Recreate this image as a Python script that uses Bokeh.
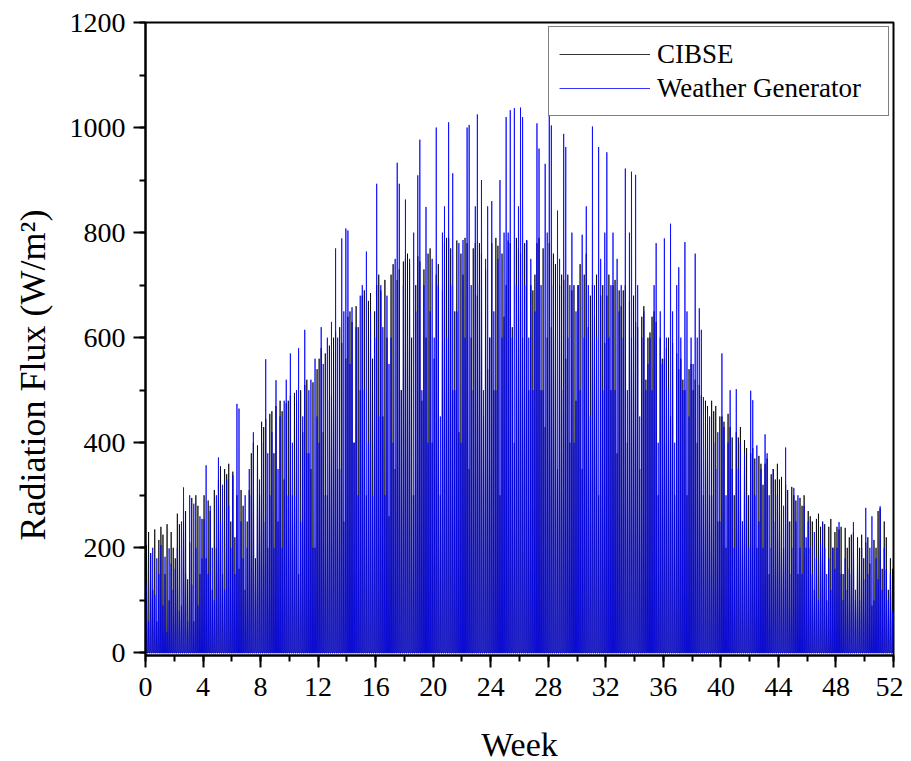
from bokeh.plotting import figure
from bokeh.models import SingleIntervalTicker, Range1d, Legend, LegendItem
from bokeh.embed import file_html
from bokeh.resources import INLINE

# Daily peak radiation (W/m^2), 7 days per week
cibse_weeks = [
    [205, 230, 190, 120, 235, 60, 215],
    [240, 225, 150, 245, 100, 230, 200],
    [180, 265, 245, 90, 250, 270, 140],
    [210, 295, 60, 300, 280, 150, 255],
    [300, 180, 290, 270, 120, 310, 200],
    [330, 355, 150, 350, 340, 360, 250],
    [345, 220, 300, 160, 310, 280, 120],
    [250, 310, 380, 400, 180, 395, 300],
    [440, 430, 445, 200, 455, 460, 380],
    [470, 250, 480, 460, 330, 475, 480],
    [490, 300, 495, 480, 150, 500, 420],
    [510, 520, 380, 350, 515, 200, 540],
    [560, 580, 420, 570, 300, 585, 490],
    [600, 610, 350, 620, 590, 250, 560],
    [640, 650, 630, 400, 660, 620, 500],
    [680, 690, 300, 670, 685, 560, 650],
    [700, 720, 690, 450, 710, 600, 260],
    [720, 740, 350, 710, 730, 500, 745],
    [750, 760, 740, 600, 300, 700, 755],
    [745, 480, 730, 600, 760, 770, 400],
    [560, 720, 740, 300, 690, 780, 790],
    [790, 770, 500, 650, 785, 420, 760],
    [720, 790, 780, 350, 600, 770, 780],
    [680, 780, 760, 450, 730, 540, 600],
    [780, 500, 790, 775, 300, 760, 640],
    [700, 785, 780, 620, 400, 790, 770],
    [760, 600, 780, 785, 500, 700, 690],
    [720, 780, 790, 500, 770, 430, 600],
    [780, 620, 760, 740, 350, 700, 720],
    [710, 560, 720, 400, 690, 700, 480],
    [700, 740, 350, 720, 760, 620, 680],
    [700, 640, 720, 300, 680, 700, 590],
    [680, 720, 500, 700, 710, 380, 690],
    [660, 690, 700, 400, 670, 600, 680],
    [630, 620, 350, 640, 660, 520, 600],
    [610, 640, 650, 630, 300, 600, 560],
    [560, 580, 600, 450, 590, 300, 570],
    [540, 560, 520, 500, 300, 540, 550],
    [500, 520, 400, 510, 490, 300, 480],
    [470, 300, 480, 460, 470, 250, 450],
    [450, 440, 200, 455, 430, 410, 300],
    [420, 410, 430, 250, 405, 390, 300],
    [380, 390, 370, 200, 375, 360, 320],
    [360, 370, 150, 340, 350, 330, 360],
    [330, 335, 200, 320, 310, 250, 316],
    [300, 290, 150, 295, 280, 300, 200],
    [270, 260, 250, 120, 255, 265, 240],
    [250, 245, 100, 240, 255, 200, 230],
    [240, 235, 240, 150, 238, 200, 220],
    [225, 230, 100, 220, 200, 225, 180],
    [210, 220, 170, 90, 215, 200, 270],
    [275, 160, 250, 220, 120, 180, 160],
]

wg_weeks = [
    [130, 60, 190, 200, 110, 180, 150],
    [205, 90, 183, 40, 199, 170, 120],
    [160, 200, 80, 250, 315, 150, 60],
    [300, 130, 284, 200, 90, 260, 180],
    [254, 357, 150, 280, 200, 100, 300],
    [372, 250, 320, 120, 330, 280, 200],
    [338, 150, 474, 465, 250, 180, 300],
    [200, 350, 300, 420, 150, 380, 330],
    [400, 250, 559, 380, 300, 420, 200],
    [519, 350, 450, 200, 480, 520, 300],
    [570, 400, 300, 500, 580, 250, 450],
    [615, 380, 500, 520, 200, 560, 450],
    [400, 620, 550, 300, 600, 480, 630],
    [500, 770, 600, 350, 789, 650, 808],
    [804, 550, 658, 400, 620, 300, 680],
    [700, 500, 764, 400, 650, 300, 600],
    [893, 450, 700, 620, 300, 680, 550],
    [600, 400, 750, 933, 893, 500, 700],
    [863, 600, 750, 300, 800, 650, 909],
    [977, 500, 700, 849, 400, 650, 750],
    [600, 1000, 700, 450, 800, 850, 600],
    [1010, 700, 913, 500, 650, 780, 400],
    [786, 600, 1000, 1005, 700, 500, 850],
    [1025, 700, 900, 500, 750, 850, 600],
    [860, 650, 500, 750, 900, 600, 800],
    [1020, 800, 1033, 600, 1037, 700, 850],
    [1038, 1020, 700, 786, 600, 750, 500],
    [650, 1008, 960, 700, 500, 931, 800],
    [1025, 1004, 700, 600, 842, 750, 500],
    [988, 963, 600, 700, 800, 400, 650],
    [700, 500, 796, 600, 850, 700, 450],
    [1002, 700, 600, 963, 750, 500, 800],
    [953, 600, 700, 800, 500, 750, 650],
    [700, 600, 922, 500, 800, 916, 600],
    [910, 700, 450, 600, 650, 500, 550],
    [600, 500, 700, 780, 400, 650, 550],
    [789, 600, 500, 817, 650, 400, 700],
    [734, 600, 500, 782, 650, 450, 600],
    [550, 760, 600, 656, 615, 487, 400],
    [458, 450, 300, 400, 350, 420, 250],
    [570, 430, 300, 400, 500, 350, 200],
    [502, 350, 400, 250, 380, 300, 200],
    [499, 481, 300, 395, 250, 350, 200],
    [416, 380, 300, 200, 350, 250, 300],
    [300, 200, 280, 391, 250, 150, 200],
    [314, 250, 300, 200, 150, 280, 220],
    [250, 200, 150, 230, 180, 100, 210],
    [249, 200, 150, 180, 120, 200, 160],
    [200, 249, 150, 100, 180, 120, 160],
    [150, 249, 120, 180, 100, 200, 140],
    [276, 150, 200, 260, 100, 180, 140],
    [279, 120, 200, 159, 100, 150, 80],
]

series_names = ["CIBSE", "Weather Generator"]
x_ticks_interval = 4
y_ticks_interval = 200

def day_trace(weeks):
    xs, ys = [], []
    d = 0
    for wk in weeks:
        for peak in wk:
            xs += [(d + 0.25) / 7.0, (d + 0.5) / 7.0, (d + 0.75) / 7.0]
            ys += [0, peak, 0]
            d += 1
    return xs, ys

cx, cy = day_trace(cibse_weeks)
wx, wy = day_trace(wg_weeks)

FONT = "Liberation Serif"

p = figure(frame_width=748, frame_height=633,
           x_range=Range1d(0, 52), y_range=Range1d(-5, 1200),
           output_backend="svg", toolbar_location=None,
           min_border_left=145, min_border_top=22, min_border_right=10, min_border_bottom=104)

r1 = p.line(cx, cy, line_color="black", line_width=0.8)
r2 = p.line(wx, wy, line_color="#0000FF", line_width=0.8)

p.grid.visible = False
p.outline_line_color = "black"
p.outline_line_width = 2
p.background_fill_color = "white"
p.border_fill_color = "white"

p.xaxis.ticker = SingleIntervalTicker(interval=x_ticks_interval, num_minor_ticks=2)
p.yaxis.ticker = SingleIntervalTicker(interval=y_ticks_interval, num_minor_ticks=2)

for ax in (p.xaxis[0], p.yaxis[0]):
    ax.axis_line_width = 2
    ax.axis_line_color = "black"
    ax.major_tick_line_width = 2
    ax.minor_tick_line_width = 2
    ax.major_tick_in = 0
    ax.minor_tick_in = 0
    ax.major_tick_out = 12
    ax.minor_tick_out = 6
    ax.major_label_text_font = FONT
    ax.major_label_text_font_size = "28px"
    ax.major_label_text_color = "black"
    ax.axis_label_text_font = FONT
    ax.axis_label_text_font_style = "normal"
    ax.axis_label_text_color = "black"

p.xaxis.axis_label = "Week"
p.xaxis.axis_label_text_font_size = "34px"
p.xaxis.major_label_standoff = 10
p.xaxis.axis_label_standoff = 27

# trailing no-break spaces shift the centred label slightly down, as in the original
p.yaxis.axis_label = "Radiation Flux (W/m²)" + "\u00a0" * 8
p.yaxis.axis_label_text_font_size = "36px"
p.yaxis.major_label_standoff = 8
p.yaxis.axis_label_standoff = 14

legend = Legend(items=[LegendItem(label=series_names[0], renderers=[r1]),
                       LegendItem(label=series_names[1], renderers=[r2])],
                location="top_right")
legend.label_text_font = FONT
legend.label_text_font_size = "27px"
legend.label_text_color = "black"
legend.glyph_width = 91
legend.glyph_height = 34
legend.label_height = 34
legend.label_standoff = 7
legend.label_width = 221
legend.padding = 10
legend.spacing = 0
legend.margin = 4
legend.border_line_color = "black"
legend.border_line_width = 1.5
legend.background_fill_alpha = 1.0
p.add_layout(legend)

open("out.html", "w").write(file_html(p, INLINE))
